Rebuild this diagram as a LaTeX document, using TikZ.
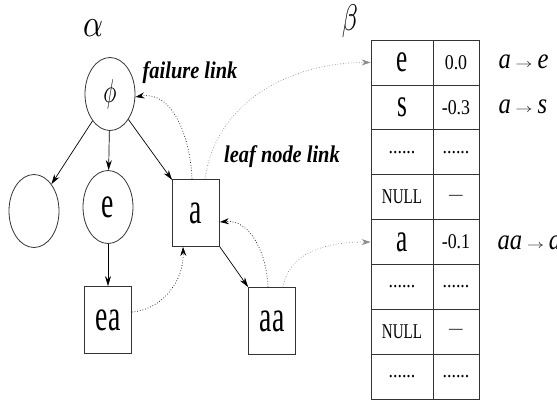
\documentclass[tikz,border=0pt]{standalone}
\usepackage{graphicx}
\usepackage{fontspec}
\setmainfont{Liberation Serif}[FakeStretch=0.85]
\newfontfamily\narrowfont{Liberation Serif}[FakeStretch=0.63]
\newfontfamily\midfont{Liberation Serif}[FakeStretch=0.72]
\usetikzlibrary{arrows.meta,shapes.geometric}

\newcommand{\kw}[1]{{\narrowfont\fontsize{40}{40}\selectfont #1}}
\newcommand{\bigsym}[3]{\scalebox{#1}[#2]{\normalsize$#3$}}
\newcommand{\dotrow}{......}
\newcommand{\nullcell}{{\midfont NULL}}
\newcommand{\nocell}{{\fontsize{16}{16}\selectfont ---}}
\newcommand{\ruleto}{\,\raisebox{1pt}{\scalebox{1.7}[1.2]{\normalsize$\rightarrow$}}\,}

\tikzset{
  trienode/.style={draw=black!80, line width=0.8pt, ellipse, minimum width=50pt,
    minimum height=73pt, inner sep=0pt, font=\narrowfont\fontsize{44}{44}\selectfont},
  leafbox/.style={draw=black!80, line width=0.8pt, rectangle, minimum width=47pt,
    minimum height=67pt, inner sep=0pt, font=\narrowfont\fontsize{44}{44}\selectfont},
  cell/.style={draw=black!80, line width=0.8pt, minimum height=44.9pt, inner sep=0pt,
    font=\fontsize{21}{21}\selectfont},
  treearrow/.style={-{Stealth[length=10pt,width=6pt]}, line width=0.7pt},
  faillink/.style={-{Stealth[length=9pt,width=6pt]}, dotted, line width=0.7pt},
  leaflink/.style={-{Stealth[length=9pt,width=6pt]}, dotted, line width=0.7pt, black!45},
  linklabel/.style={font=\fontsize{24}{24}\selectfont\bfseries\itshape},
  rulelabel/.style={font=\fontsize{29}{29}\selectfont\itshape, anchor=west},
}

\begin{document}
\begin{tikzpicture}[x=1pt, y=-1pt]
    \useasboundingbox (0,0) rectangle (557,400);

    % 字典树
    \node (alpha) at (93,28) {\bigsym{3.1}{3.9}{\alpha}};
    \node[trienode] (root) at (110,94) {\bigsym{2.2}{3.3}{\phi}};
    \node[trienode] (left) at (34,211) {};
    \node[trienode] (e) at (108,207) {e};
    \node[leafbox] (a) at (196,213) {a};
    \node[leafbox] (ea) at (108,320) {ea};
    \node[leafbox] (aa) at (272,321) {aa};

    % 树边
    \draw[treearrow] (root) -- (left);
    \draw[treearrow] (root) -- (e);
    \draw[treearrow] (root) -- (a);
    \draw[treearrow] (e) -- (ea);
    \draw[treearrow] (a) -- (aa);

    % 失败指针
    \node[linklabel] (faillabel) at (190,73) {failure link};
    \draw[faillink] ([xshift=-4pt]a.north) to[out=92, in=10] ([yshift=-3pt]root.east);
    \draw[faillink] ([yshift=8pt]ea.east) to[out=5, in=-88] ([xshift=-13pt]a.south);
    \draw[faillink] ([xshift=-4pt]aa.north) to[out=92, in=5] ([yshift=-9pt]a.east);

    % 概率表
    \node (beta) at (350,21) {\bigsym{2.6}{3.7}{\beta}};
    \foreach \lt/\rt [count=\i] in {{\kw e}/0.0, {\kw s}/-0.3, \dotrow/\dotrow,
        \nullcell/\nocell, {\kw a}/-0.1, \dotrow/\dotrow, \nullcell/\nocell, \dotrow/\dotrow} {
      \node[cell, minimum width=62pt] (k\i) at (402, 17.55+44.9*\i) {\lt};
      \node[cell, minimum width=46pt] (p\i) at (456, 17.55+44.9*\i) {\rt};
    }

    % 叶节点指针
    \node[linklabel] (leaflabel) at (282,157) {leaf node link};
    \draw[leaflink] ([xshift=9pt]a.north) to[out=82, in=180] (k1.west);
    \draw[leaflink] ([xshift=11pt]aa.north) to[out=80, in=180] (k5.west);

    % 规则
    \node[rulelabel] (r1) at (495,62) {a\ruleto e};
    \node[rulelabel] (r2) at (495,107) {a\ruleto s};
    \node[rulelabel] (r3) at (494,243) {aa\ruleto a};
\end{tikzpicture}
\end{document}
